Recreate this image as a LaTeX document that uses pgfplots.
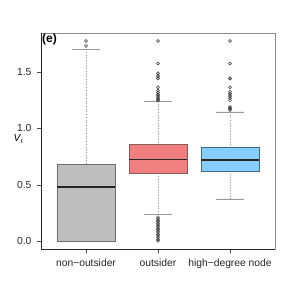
\documentclass[border=0pt]{standalone}
\usepackage{pgfplots}
\pgfplotsset{compat=1.18}
\usepgfplotslibrary{statistics}
\usepackage{fontspec}
\setmainfont{Liberation Sans}
\definecolor{boxgray}{HTML}{BEBEBE}
\definecolor{boxgrayedge}{HTML}{6E6E6E}
\definecolor{boxred}{HTML}{F08080}
\definecolor{boxrededge}{HTML}{8A5A5A}
\definecolor{boxblue}{HTML}{87CEFA}
\definecolor{boxblueedge}{HTML}{3F6A88}
\definecolor{whisk}{HTML}{9A9A9A}
\definecolor{framegray}{HTML}{8C8C8C}
\definecolor{outl}{HTML}{3A3A3A}

\pgfplotstableread{
y
1.775
1.730
}\outnon
\pgfplotstableread{
y
1.775
1.575
1.488
1.472
1.457
1.442
1.364
1.335
1.318
1.303
1.290
1.278
1.266
1.254
1.245
0.212
0.198
0.184
0.170
0.156
0.142
0.128
0.114
0.100
0.086
0.072
0.058
0.044
0.030
0.016
0.003
}\outout
\pgfplotstableread{
y
1.775
1.575
1.444
1.440
1.364
1.328
1.312
1.296
1.280
1.264
1.248
1.189
1.180
1.171
1.162
}\outhigh

\begin{document}
\begin{tikzpicture}
\path[use as bounding box] (0,0) rectangle (291pt,291pt);
\begin{axis}[
  at={(41pt,42pt)}, anchor=south west,
  scale only axis, width=234pt, height=216pt,
  xmin=0.375, xmax=3.625, ymin=-0.071, ymax=1.846,
  xtick={1,2,3},
  xticklabels={non\textminus outsider, outsider, high\textminus degree node},
  ytick={0,0.5,1,1.5},
  xtick pos=bottom, ytick pos=left,
  /pgf/number format/fixed, /pgf/number format/fixed zerofill,
  /pgf/number format/precision=1, /pgf/number format/assume math mode=true,
  tick label style={font=\fontsize{10.3}{12}\selectfont, text=black!85},
  tick align=outside,
  major tick length=4pt,
  xtick style={black!70},
  ytick style={black!70},
  xticklabel style={yshift=-3pt},
  yticklabel style={xshift=-2pt},
  axis line style={framegray, line width=0.6pt},
  every axis y label/.style={at={(axis description cs:-0.098,0.51)}, anchor=center},
  ylabel={\fontsize{10.3}{12}\selectfont\itshape V\kern0.3pt\raisebox{-0.35ex}{\fontsize{7.5}{8}\selectfont i}},
  boxplot/draw direction=y,
  boxplot/box extend=0.8,
  boxplot/whisker extend=0.4,
  boxplot/every median/.style={draw=black!85, line width=1.3pt},
  boxplot/draw/lower whisker/.code={
    \draw[whisk, dotted, line width=0.7pt] (boxplot box cs:\pgfplotsboxplotvalue{lower whisker},0.5) -- (boxplot box cs:\pgfplotsboxplotvalue{lower quartile},0.5);
    \draw[whisk, line width=0.7pt] (boxplot whisker cs:\pgfplotsboxplotvalue{lower whisker},0) -- (boxplot whisker cs:\pgfplotsboxplotvalue{lower whisker},1);
  },
  boxplot/draw/upper whisker/.code={
    \draw[whisk, dotted, line width=0.7pt] (boxplot box cs:\pgfplotsboxplotvalue{upper whisker},0.5) -- (boxplot box cs:\pgfplotsboxplotvalue{upper quartile},0.5);
    \draw[whisk, line width=0.7pt] (boxplot whisker cs:\pgfplotsboxplotvalue{upper whisker},0) -- (boxplot whisker cs:\pgfplotsboxplotvalue{upper whisker},1);
  },
  clip=false,
]
\addplot[boxplot prepared={draw position=1, lower whisker=0, lower quartile=0, median=0.479, upper quartile=0.683, upper whisker=1.701},
  draw=boxgrayedge, fill=boxgray, line width=0.6pt,
  mark=o, mark size=1.5pt, mark options={draw=outl, fill=none, line width=0.5pt}]
  table[y=y] {\outnon};
\addplot[boxplot prepared={draw position=2, lower whisker=0.235, lower quartile=0.603, median=0.725, upper quartile=0.855, upper whisker=1.242},
  draw=boxrededge, fill=boxred, line width=0.6pt,
  mark=o, mark size=1.5pt, mark options={draw=outl, fill=none, line width=0.5pt}]
  table[y=y] {\outout};
\addplot[boxplot prepared={draw position=3, lower whisker=0.373, lower quartile=0.618, median=0.719, upper quartile=0.834, upper whisker=1.145},
  draw=boxblueedge, fill=boxblue, line width=0.6pt,
  mark=o, mark size=1.5pt, mark options={draw=outl, fill=none, line width=0.5pt}]
  table[y=y] {\outhigh};
\draw[black!85, line width=0.7pt] (rel axis cs:0,1) -- (rel axis cs:0,0) -- (rel axis cs:1,0);
\node[anchor=north west, inner sep=1pt, font=\fontsize{12}{14}\selectfont\bfseries] at (rel axis cs:0,1) {(e)};
\end{axis}
\end{tikzpicture}
\end{document}
